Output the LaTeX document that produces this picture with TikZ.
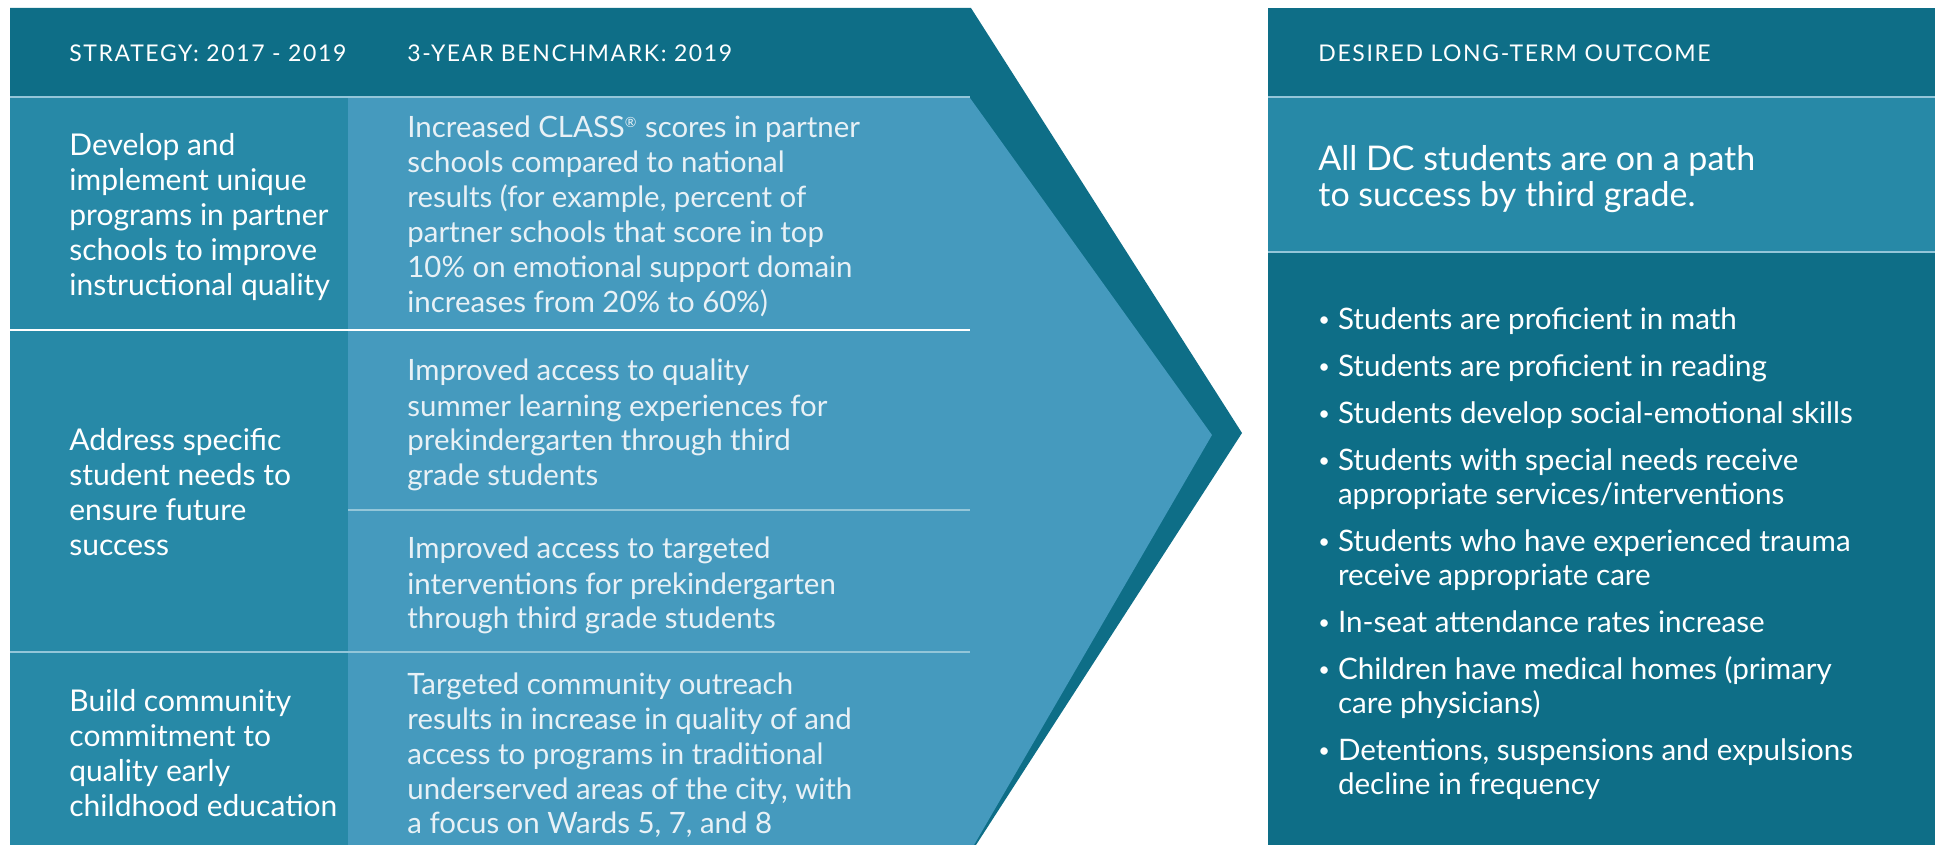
\documentclass[tikz,border=0pt]{standalone}
\usepackage{fontspec}
\setmainfont{Lato}
\definecolor{darkTeal}{HTML}{0E6E87}
\definecolor{midTeal}{HTML}{2789A7}
\definecolor{lightTeal}{HTML}{459ABE}
\definecolor{ruleBlue}{HTML}{93C6D9}
\definecolor{paleText}{HTML}{E8F1F6}
\newcommand{\stackLines}[1]{\begin{tabular}[t]{@{}l@{}}#1\end{tabular}}
\newcommand{\smallDot}{\raisebox{1.6pt}{\fontsize{10}{10}\selectfont •}}
\tikzset{
  every picture/.style={font={\normalsize}, >=stealth}}

\begin{document}
\begin{tikzpicture}[
    x=0.5pt, y=-0.5pt,
    header/.style={
      anchor=base west, inner sep=0, text=white,
      font=\fontsize{11.5}{13}\selectfont\addfontfeatures{LetterSpace=7}},
    strategy/.style={
      anchor=base west, inner sep=0, text=white,
      font=\fontsize{15}{17.5}\selectfont},
    benchmark/.style={
      anchor=base west, inner sep=0, text=paleText,
      font=\fontsize{14.7}{17.5}\selectfont},
    outcome/.style={
      anchor=base west, inner sep=0, text=white,
      font=\fontsize{17}{17.5}\selectfont},
    rowRule/.style={line width=1pt}]

    \useasboundingbox (0,0) rectangle (1935,845);

    \fill[darkTeal] (10,8) -- (971,8) -- (1242,433) -- (976,845) -- (10,845) -- cycle;
    \fill[lightTeal] (348,98) -- (970,98) -- (1212,435) -- (974,845) -- (348,845) -- cycle;
    \fill[midTeal] (10,98) rectangle (348,845);
    \draw[rowRule, ruleBlue] (10,97) -- (970,97);
    \draw[rowRule, white] (10,330) -- (970,330);
    \draw[rowRule, ruleBlue] (348,510) -- (970,510);
    \draw[rowRule, ruleBlue] (10,652) -- (970,652);

    \fill[darkTeal] (1268,8) rectangle (1935,845);
    \fill[midTeal] (1268,98) rectangle (1935,252);
    \draw[rowRule, ruleBlue] (1268,97) -- (1935,97);
    \draw[rowRule, ruleBlue] (1268,252) -- (1935,252);

    \node[header] (hStrategy) at (69,62) {STRATEGY: 2017 - 2019};
    \node[header] (hBenchmark) at (407,62) {3-YEAR BENCHMARK: 2019};
    \node[header] (hOutcome) at (1318,62) {DESIRED LONG-TERM OUTCOME};

    \node[strategy] (stratOne) at (69,156) {\stackLines{%
      Develop and\\implement unique\\programs in partner\\schools to improve\\instructional quality}};
    \node[strategy] (stratTwo) at (69,451) {\stackLines{%
      Address specific\\student needs to\\ensure future\\success}};
    \node[strategy] (stratThree) at (69,711) {\stackLines{%
      Build community\\commitment to\\quality early\\childhood education}};

    \node[benchmark] (benchOne) at (407,138) {\stackLines{%
      Increased CLASS\textsuperscript{\fontsize{7}{7}\selectfont ®} scores in partner\\schools compared to national\\results (for example, percent of\\partner schools that score in top\\10\% on emotional support domain\\increases from 20\% to 60\%)}};
    \node[benchmark] (benchTwo) at (407,381) {\stackLines{%
      Improved access to quality\\summer learning experiences for\\prekindergarten through third\\grade students}};
    \node[benchmark] (benchThree) at (407,559) {\stackLines{%
      Improved access to targeted\\interventions for prekindergarten\\through third grade students}};
    \node[benchmark] (benchFour) at (407,694) {\stackLines{%
      Targeted community outreach\\results in increase in quality of and\\access to programs in traditional\\underserved areas of the city, with\\a focus on Wards 5, 7, and 8}};

    \node[outcome] (goal) at (1318,171) {\stackLines{%
      All DC students are on a path\\to success by third grade.}};

    \node[anchor=base west, inner sep=0, text=white,
          font=\fontsize{14.8}{17}\selectfont] (results) at (1318,330) {%
      \begin{tabular}[t]{@{}l@{\hspace{4pt}}l@{}}
        \smallDot & Students are proficient in math\\[6.5pt]
        \smallDot & Students are proficient in reading\\[6.5pt]
        \smallDot & Students develop social-emotional skills\\[6.5pt]
        \smallDot & Students with special needs receive\\
                  & appropriate services/interventions\\[6.5pt]
        \smallDot & Students who have experienced trauma\\
                  & receive appropriate care\\[6.5pt]
        \smallDot & In-seat attendance rates increase\\[6.5pt]
        \smallDot & Children have medical homes (primary\\
                  & care physicians)\\[6.5pt]
        \smallDot & Detentions, suspensions and expulsions\\
                  & decline in frequency
      \end{tabular}};
\end{tikzpicture}
\end{document}
